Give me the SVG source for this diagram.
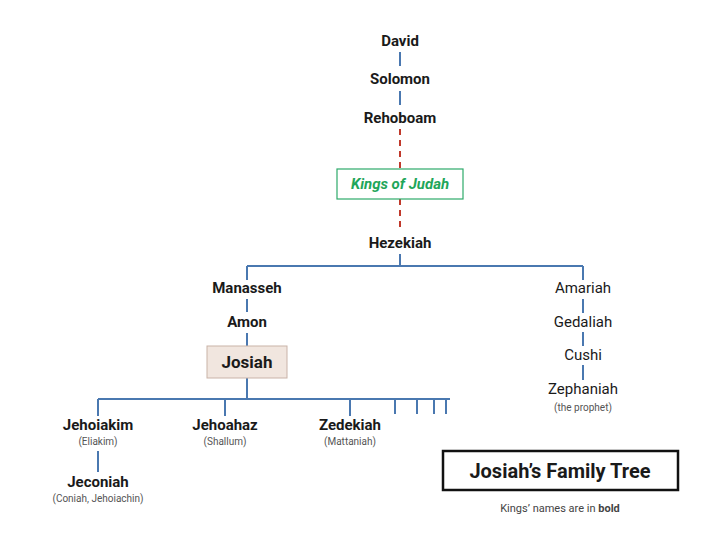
<svg xmlns="http://www.w3.org/2000/svg" width="720" height="538" viewBox="0 0 720 538">
<style>
text{font-family:Roboto,"Liberation Sans",sans-serif;text-anchor:middle;fill:#1a1a1a}
.k{font-weight:bold;font-size:15px}
.n{font-size:15px}
.s{font-size:10px;fill:#555}
.b{stroke:#4a78b0;stroke-width:2;fill:none}
.r{stroke:#c0392b;stroke-width:2;fill:none;stroke-dasharray:6,5}
</style>
<rect width="720" height="538" fill="#fff"/>
<g id="connectors">
<path class="b" d="M400 52V66M400 91V105M400 254V266M247 266H583M247 266V280M247 299V312M247 333V346M583 266V280M583 299V313M583 332V346M583 365V380M247 378V399M98 399H450M98 399V416M225 399V416M350 399V416M395 399V414M417 399V414M434 399V414M446 399V414M98 451V472"/>
<path class="r" d="M400 129V169M400 199V232"/>
</g>
<g id="david"><text class="k" x="400" y="46">David</text></g>
<g id="solomon"><text class="k" x="400" y="84">Solomon</text></g>
<g id="rehoboam"><text class="k" x="400" y="123">Rehoboam</text></g>
<g id="kings"><rect x="337" y="169" width="126" height="30" fill="#fff" stroke="#2eaa6a" stroke-width="1.2"/><text x="400" y="189" font-size="15" font-weight="bold" font-style="italic" style="fill:#1fa65a">Kings of Judah</text></g>
<g id="hezekiah"><text class="k" x="400" y="248">Hezekiah</text></g>
<g id="manasseh"><text class="k" x="247" y="293">Manasseh</text></g>
<g id="amon"><text class="k" x="247" y="327">Amon</text></g>
<g id="josiah"><rect x="207" y="346" width="80" height="32" fill="#f1e6df" stroke="#c9b3a8"/><text x="247" y="368" font-size="17" font-weight="bold">Josiah</text></g>
<g id="amariah"><text class="n" x="583" y="293">Amariah</text></g>
<g id="gedaliah"><text class="n" x="583" y="327">Gedaliah</text></g>
<g id="cushi"><text class="n" x="583" y="360">Cushi</text></g>
<g id="zephaniah"><text class="n" x="583" y="394">Zephaniah</text><text class="s" x="583" y="411">(the prophet)</text></g>
<g id="jehoiakim"><text class="k" x="98" y="430">Jehoiakim</text><text class="s" x="98" y="445">(Eliakim)</text></g>
<g id="jehoahaz"><text class="k" x="225" y="430">Jehoahaz</text><text class="s" x="225" y="445">(Shallum)</text></g>
<g id="zedekiah"><text class="k" x="350" y="430">Zedekiah</text><text class="s" x="350" y="445">(Mattaniah)</text></g>
<g id="jeconiah"><text class="k" x="98" y="487">Jeconiah</text><text class="s" x="98" y="502">(Coniah, Jehoiachin)</text></g>
<g id="title"><rect x="443" y="451" width="235" height="39" fill="#fff" stroke="#111" stroke-width="2.5"/><text x="560" y="478" font-size="20" font-weight="bold">Josiah’s Family Tree</text>
<text x="560" y="512" font-size="11" style="fill:#444">Kings’ names are in <tspan font-weight="bold">bold</tspan></text></g>
</svg>
